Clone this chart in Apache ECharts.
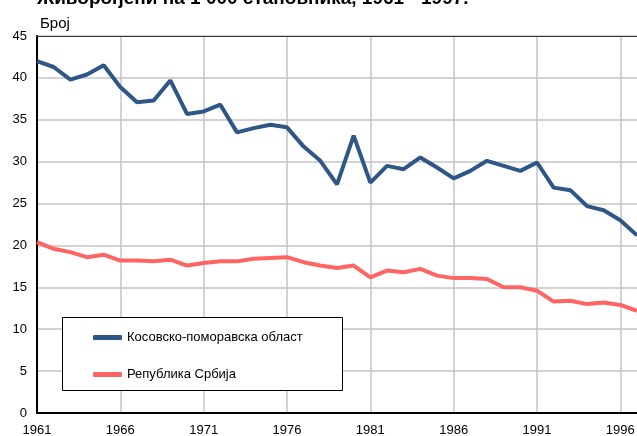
<!DOCTYPE html>
<html>
<head>
<meta charset="utf-8">
<script src="https://cdn.jsdelivr.net/npm/echarts@6/dist/echarts.min.js"></script>
<style>
html,body{margin:0;padding:0;background:#fff;}
#c{width:637px;height:436px;}
</style>
</head>
<body>
<div id="c"></div>
<script>
var years = [];
for (var y = 1961; y <= 1997; y++) years.push(String(y));

var kosovoName = 'Косовско-поморавска област';
var serbiaName = 'Република Србија';

var kosovo = [42.0, 41.3, 39.8, 40.4, 41.5, 38.9, 37.1, 37.3, 39.7, 35.7,
              36.0, 36.8, 33.5, 34.0, 34.4, 34.1, 31.8, 30.1, 27.3, 33.1,
              27.5, 29.5, 29.1, 30.5, 29.3, 28.0, 28.9, 30.1, 29.5, 28.9,
              29.9, 26.9, 26.6, 24.7, 24.2, 23.0, 21.2];

var serbia = [20.4, 19.6, 19.2, 18.6, 18.9, 18.2, 18.2, 18.1, 18.3, 17.6,
              17.9, 18.1, 18.1, 18.4, 18.5, 18.6, 18.0, 17.6, 17.3, 17.6,
              16.2, 17.0, 16.8, 17.2, 16.4, 16.1, 16.1, 16.0, 15.0, 15.0,
              14.6, 13.3, 13.4, 13.0, 13.2, 12.9, 12.2];

var titleText = 'Живорођени на 1 000 становника, 1961 - 1997.';
var unitText = 'Број';

var chart = echarts.init(document.getElementById('c'), null, {renderer: 'canvas'});
var font = 'Liberation Sans, Arial, sans-serif';
chart.setOption({
  animation: false,
  backgroundColor: '#fff',
  textStyle: {fontFamily: font},
  title: [
    {text: titleText, left: 32, top: -16,
     textStyle: {fontFamily: font, fontSize: 19, fontWeight: 'bold', color: '#000'}},
    {text: unitText, left: 35, top: 11,
     textStyle: {fontFamily: font, fontSize: 15, fontWeight: 'normal', color: '#000'}}
  ],
  grid: {left: 37, right: 0, top: 36, bottom: 23, outerBoundsMode: 'none', containLabel: false},
  graphic: [{
    type: 'rect', z: 50,
    shape: {x: 62.5, y: 317.5, width: 280, height: 73},
    style: {fill: '#fff', stroke: '#000', lineWidth: 1}
  }],
  legend: {
    orient: 'vertical', left: 62, top: 317, z: 60,
    padding: [14, 20, 11, 31], itemGap: 24,
    itemWidth: 29, itemHeight: 5, icon: 'roundRect',
    textStyle: {fontFamily: font, fontSize: 13, color: '#000'},
    data: [kosovoName, serbiaName]
  },
  xAxis: [{
    type: 'category', data: years, boundaryGap: false,
    axisLine: {lineStyle: {color: '#000', width: 2}},
    axisTick: {show: false},
    axisLabel: {interval: 4, color: '#000', fontSize: 13, margin: 11, fontFamily: font},
    splitLine: {show: true, interval: 4, lineStyle: {color: '#c4c4c4', width: 1.5}}
  }, {
    type: 'category', data: years, boundaryGap: false, position: 'top',
    axisLine: {lineStyle: {color: '#333', width: 1}},
    axisTick: {show: false}, axisLabel: {show: false}, splitLine: {show: false}
  }],
  yAxis: {
    type: 'value', min: 0, max: 45, interval: 5,
    axisLine: {show: true, lineStyle: {color: '#000', width: 2}},
    axisTick: {show: false},
    axisLabel: {color: '#000', fontSize: 13, margin: 10, fontFamily: font},
    splitLine: {show: true, lineStyle: {color: '#c4c4c4', width: 1.5}}
  },
  series: [
    {name: kosovoName, type: 'line', data: kosovo, symbol: 'none', z: 3,
     lineStyle: {color: '#2e5686', width: 4}, itemStyle: {color: '#2e5686'}},
    {name: serbiaName, type: 'line', data: serbia, symbol: 'none', z: 3,
     lineStyle: {color: '#ff6464', width: 4}, itemStyle: {color: '#ff6464'}}
  ]
});
</script>
</body>
</html>
